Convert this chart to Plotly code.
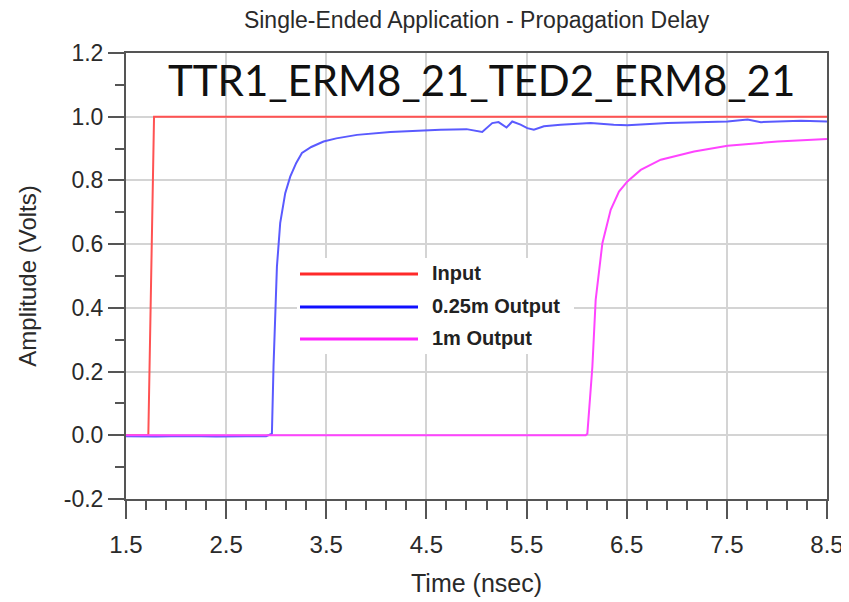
import plotly.graph_objects as go

# ---- data ----
series_names = ["Input", "0.25m Output", "1m Output"]

input_x = [1.5, 1.723, 1.78, 8.5]
input_y = [0.0, 0.0, 1.0, 1.0]

out025_x = [1.5, 1.8, 2.1, 2.4, 2.7, 2.9, 2.957, 2.973, 3.007, 3.04, 3.09, 3.14, 3.2,
            3.257, 3.35, 3.473, 3.6, 3.807, 4.14, 4.44, 4.64, 4.9, 5.057, 5.157, 5.22,
            5.30, 5.357, 5.44, 5.507, 5.573, 5.673, 5.84, 6.14, 6.37, 6.507, 6.907,
            7.507, 7.707, 7.84, 8.24, 8.5]
out025_y = [-0.003, -0.004, -0.002, -0.004, -0.003, -0.003, 0.005, 0.215, 0.529, 0.667,
            0.76, 0.812, 0.855, 0.886, 0.905, 0.922, 0.932, 0.943, 0.952, 0.957, 0.959,
            0.961, 0.952, 0.980, 0.983, 0.966, 0.985, 0.975, 0.964, 0.959, 0.970, 0.975,
            0.980, 0.975, 0.973, 0.980, 0.985, 0.991, 0.983, 0.987, 0.985]

out1m_x = [1.5, 6.09, 6.107, 6.157, 6.19, 6.257, 6.34, 6.423, 6.507, 6.64, 6.84, 7.173,
           7.507, 8.007, 8.5]
out1m_y = [0.0, 0.0, 0.005, 0.215, 0.425, 0.603, 0.708, 0.765, 0.797, 0.833, 0.865,
           0.891, 0.909, 0.922, 0.930]

x_ticks = [1.5, 2.5, 3.5, 4.5, 5.5, 6.5, 7.5, 8.5]
y_ticks = [-0.2, 0.0, 0.2, 0.4, 0.6, 0.8, 1.0, 1.2]

title_text = "Single-Ended Application - Propagation Delay"
subtitle_text = "TTR1_ERM8_21_TED2_ERM8_21"
x_title = "Time (nsec)"
y_title = "Amplitude (Volts)"

# ---- styles ----
line_colors = ["#ff5252", "#5a5aff", "#ff44ff"]
legend_colors = ["#ff2a2a", "#1010ff", "#ff22ff"]
FONT = "Liberation Sans, Arial, sans-serif"
AXC = "#555555"
TXT = "#2a2a2a"

fig = go.Figure()
for name, xs, ys, c in zip(series_names, [input_x, out025_x, out1m_x],
                           [input_y, out025_y, out1m_y], line_colors):
    fig.add_trace(go.Scatter(x=xs, y=ys, mode="lines", name=name,
                             line=dict(color=c, width=2), showlegend=False))

fig.update_layout(
    width=849, height=602,
    margin=dict(l=118, r=30, t=45, b=111, autoexpand=False),
    paper_bgcolor="white", plot_bgcolor="white",
    font=dict(family=FONT, color=TXT, size=18),
    title=dict(text=title_text, x=0.552, xanchor="center", y=0.98, yanchor="middle",
               font=dict(size=23, color=TXT, family=FONT)),
)
fig.update_xaxes(
    range=[1.5, 8.5], tickvals=x_ticks, ticktext=[f"{v:.1f}" for v in x_ticks],
    showgrid=True, gridcolor="#d4d4d4", gridwidth=1.5, zeroline=False,
    showline=True, linecolor=AXC, linewidth=2, mirror=True,
    ticks="outside", ticklen=18, tickwidth=2, tickcolor=AXC,
    ticklabelstandoff=5,
    minor=dict(dtick=0.2, tick0=1.5, ticks="outside", ticklen=9, tickwidth=1.5,
               tickcolor=AXC, showgrid=False),
    tickfont=dict(size=24, color=TXT),
    title=dict(text=x_title, font=dict(size=25, color=TXT), standoff=18),
)
fig.update_yaxes(
    range=[-0.2, 1.2], tickvals=y_ticks, ticktext=[f"{v:.1f}" for v in y_ticks],
    showgrid=True, gridcolor="#d4d4d4", gridwidth=1.5, zeroline=False,
    showline=True, linecolor=AXC, linewidth=2, mirror=True,
    ticks="outside", ticklen=16, tickwidth=2, tickcolor=AXC,
    minor=dict(dtick=0.1, tick0=0, ticks="outside", ticklen=9, tickwidth=1.5,
               tickcolor=AXC, showgrid=False),
    tickfont=dict(size=23, color=TXT),
    title=dict(text=y_title, font=dict(size=24, color=TXT), standoff=20),
)

# big label inside plot
fig.add_annotation(text=subtitle_text, xref="paper", yref="paper",
                   x=0.507, y=0.939, xanchor="center", yanchor="middle",
                   showarrow=False, font=dict(size=42, color="#111111",
                                              family="Lato, Open Sans, sans-serif"))

# legend box (drawn in paper coordinates)
W, H = 701.0, 446.0
def px(xp):
    return (xp - 126) / W
def py(yp):
    return (499 - yp) / H

fig.add_shape(type="rect", xref="paper", yref="paper", x0=px(297), x1=px(574),
              y0=py(354), y1=py(258), fillcolor="white", line=dict(width=0), layer="above")
rows = [274, 307, 339]
for name, c, yy in zip(series_names, legend_colors, rows):
    fig.add_shape(type="line", xref="paper", yref="paper", x0=px(300), x1=px(418),
                  y0=py(yy), y1=py(yy), line=dict(color=c, width=3), layer="above")
    fig.add_annotation(text="<b>" + name + "</b>", xref="paper", yref="paper",
                       x=px(430), y=py(yy - 1),
                       xanchor="left", yanchor="middle", showarrow=False,
                       font=dict(size=20, color="#222222", family=FONT))

fig.write_html("out.html")
